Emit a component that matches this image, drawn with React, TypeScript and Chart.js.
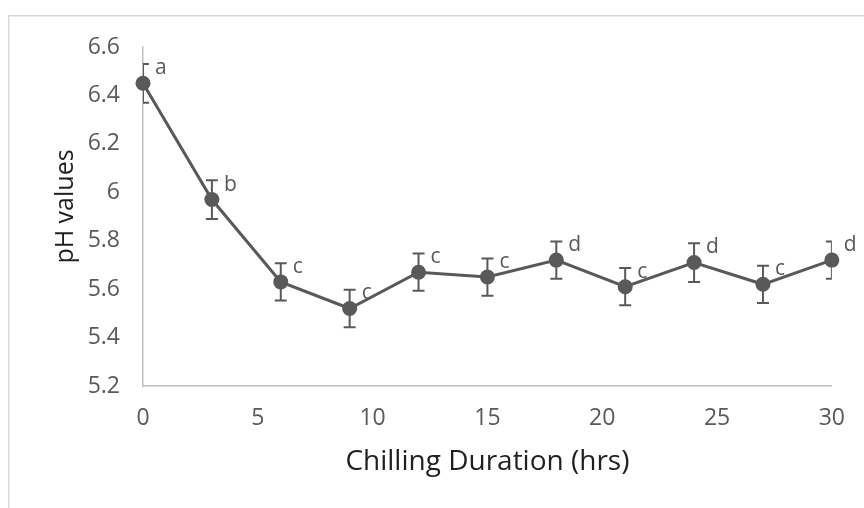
import { useEffect, useRef } from "react";
import { Chart, registerables } from "chart.js";

Chart.register(...registerables);

const hours = [0, 3, 6, 9, 12, 15, 18, 21, 24, 27, 30];
const phValues = [6.45, 5.97, 5.63, 5.52, 5.67, 5.65, 5.72, 5.61, 5.71, 5.62, 5.72];
const phErrors = [0.08, 0.08, 0.077, 0.077, 0.077, 0.077, 0.077, 0.077, 0.08, 0.077, 0.077];
const groupLetters = ["a", "b", "c", "c", "c", "c", "d", "c", "d", "c", "d"];
const xTitle = "Chilling Duration (hrs)";
const yTitle = "pH values";

const FONT = "'Open Sans', 'Noto Sans', sans-serif";
const GREY = "#595959";

const framePlugin = {
  id: "frame",
  beforeDraw(chart: any) {
    const { ctx } = chart;
    ctx.save();
    ctx.fillStyle = "#ffffff";
    ctx.fillRect(0, 0, chart.width, chart.height);
    ctx.strokeStyle = "#d9d9d9";
    ctx.lineWidth = 1.5;
    ctx.beginPath();
    ctx.moveTo(8.75, chart.height);
    ctx.lineTo(8.75, 15.75);
    ctx.lineTo(chart.width, 15.75);
    ctx.stroke();
    ctx.restore();
  },
  afterDraw(chart: any) {
    const { ctx, chartArea } = chart;
    ctx.save();
    ctx.fillStyle = "#1f1f1f";
    ctx.font = `25px ${FONT}`;
    ctx.textAlign = "center";
    ctx.textBaseline = "middle";
    ctx.translate(66, (chartArea.top + chartArea.bottom) / 2 - 10);
    ctx.rotate(-Math.PI / 2);
    ctx.fillText(yTitle, 0, 0);
    ctx.restore();
  },
};

const errorBarPlugin = {
  id: "errorBars",
  afterDatasetsDraw(chart: any) {
    const { ctx, chartArea } = chart;
    const xs = chart.scales.x;
    const ys = chart.scales.y;
    ctx.save();
    ctx.beginPath();
    ctx.rect(chartArea.left, 0, chartArea.right - chartArea.left, chart.height);
    ctx.clip();
    ctx.strokeStyle = GREY;
    ctx.lineWidth = 2;
    const cap = 6;
    hours.forEach((h, i) => {
      const px = xs.getPixelForValue(h);
      const top = ys.getPixelForValue(phValues[i] + phErrors[i]);
      const bot = ys.getPixelForValue(phValues[i] - phErrors[i]);
      ctx.beginPath();
      ctx.moveTo(px, top);
      ctx.lineTo(px, bot);
      ctx.moveTo(px - cap, top);
      ctx.lineTo(px + cap, top);
      ctx.moveTo(px - cap, bot);
      ctx.lineTo(px + cap, bot);
      ctx.stroke();
    });
    ctx.restore();

    ctx.save();
    ctx.fillStyle = GREY;
    ctx.font = `21px ${FONT}`;
    ctx.textAlign = "left";
    ctx.textBaseline = "middle";
    hours.forEach((h, i) => {
      const px = xs.getPixelForValue(h);
      const py = ys.getPixelForValue(phValues[i]);
      ctx.fillText(groupLetters[i], px + 12, py - 15);
    });
    ctx.restore();
  },
};

export default function App() {
  const canvasRef = useRef<HTMLCanvasElement | null>(null);

  useEffect(() => {
    document.body.style.margin = "0";
    const canvas = canvasRef.current;
    if (!canvas) return;
    const chart = new Chart(canvas, {
      type: "line",
      data: {
        datasets: [
          {
            data: hours.map((h, i) => ({ x: h, y: phValues[i] })),
            borderColor: GREY,
            borderWidth: 3,
            pointRadius: 7.5,
            pointBackgroundColor: GREY,
            pointBorderWidth: 0,
            tension: 0,
            clip: false as any,
          },
        ],
      },
      options: {
        animation: false,
        responsive: true,
        maintainAspectRatio: false,
        devicePixelRatio: 1,
        layout: { padding: { top: 47, right: 27, left: 0, bottom: 0 } },
        plugins: {
          legend: { display: false },
          tooltip: { enabled: false },
        },
        scales: {
          x: {
            type: "linear",
            min: 0,
            max: 30,
            afterFit: (s: any) => {
              s.height = 122;
            },
            grid: { display: false, drawTicks: false },
            border: { display: true, color: "#c0c0c0", width: 1.5 },
            ticks: {
              stepSize: 5,
              padding: 19,
              color: GREY,
              font: { family: FONT, size: 23 },
            },
            title: {
              display: true,
              text: xTitle,
              color: "#1f1f1f",
              font: { family: FONT, size: 28 },
              padding: { top: 0, bottom: 29 },
            },
          },
          y: {
            type: "linear",
            min: 5.2,
            max: 6.6,
            afterFit: (s: any) => {
              s.width = 143;
            },
            grid: { display: false, drawTicks: false },
            border: { display: true, color: "#c0c0c0", width: 1.5 },
            ticks: {
              stepSize: 0.2,
              padding: 23,
              color: GREY,
              font: { family: FONT, size: 23 },
              callback: (v: any) => String(Math.round(Number(v) * 10) / 10),
            },
          },
        },
      },
      plugins: [framePlugin, errorBarPlugin],
    });
    return () => chart.destroy();
  }, []);

  return (
    <div style={{ position: "relative", width: "864px", height: "508px" }}>
      <canvas ref={canvasRef} />
    </div>
  );
}
